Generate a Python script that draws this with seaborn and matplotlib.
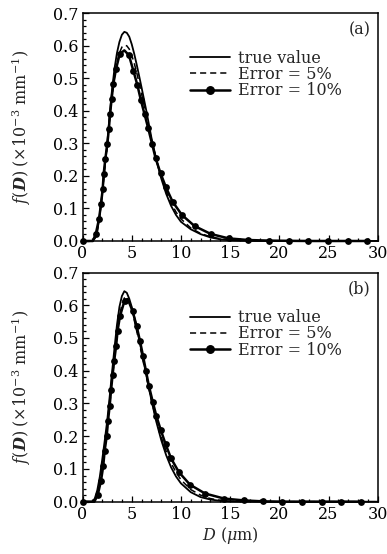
import numpy as np
import pandas as pd
import seaborn as sns
import matplotlib.pyplot as plt
from matplotlib.lines import Line2D
from matplotlib.ticker import MultipleLocator

# ---- panel (a): values ----
true_a_D = [0, 1.0, 1.25, 1.5, 1.75, 2.0, 2.25, 2.5, 2.75, 3.0, 3.25, 3.5, 3.75, 4.0, 4.25,
            4.5, 4.75, 5.0, 5.25, 5.5, 5.75, 6.0, 6.5, 7.0, 7.5, 8.0, 8.5, 9.0, 9.5, 10,
            11, 12, 13, 14, 15, 16, 17, 18, 30]
true_a_f = [0, 0, 0.008, 0.03, 0.08, 0.145, 0.225, 0.295, 0.385, 0.465, 0.53, 0.578, 0.612, 0.634, 0.643,
            0.640, 0.628, 0.605, 0.576, 0.543, 0.508, 0.472, 0.398, 0.318, 0.25, 0.192, 0.145, 0.108, 0.08, 0.059,
            0.036, 0.021, 0.011, 0.005, 0.0025, 0.001, 0.0004, 0, 0]

e5_a_D = true_a_D
e5_a_f = [0, 0, 0.008, 0.03, 0.08, 0.145, 0.222, 0.29, 0.375, 0.448, 0.505, 0.548, 0.578, 0.596, 0.602,
          0.600, 0.590, 0.571, 0.547, 0.518, 0.486, 0.452, 0.383, 0.312, 0.25, 0.197, 0.153, 0.117, 0.089, 0.068,
          0.040, 0.023, 0.013, 0.007, 0.0035, 0.0015, 0.0005, 0, 0]

# Error = 10%: points that carry a symbol
e10_a_D = [0, 1.35, 1.68, 1.88, 2.05, 2.15, 2.32, 2.52, 2.68, 2.8, 2.96, 3.13, 3.4, 3.78,
           4.72, 5.16, 5.57, 5.92, 6.3, 6.68, 7.07, 7.43, 7.93, 8.48, 9.15, 10.1, 11.38,
           13.04, 14.85, 16.85, 18.92, 20.96, 22.95, 24.98, 26.95, 28.91]
e10_a_f = [0, 0.022, 0.068, 0.114, 0.159, 0.206, 0.253, 0.298, 0.345, 0.391, 0.437, 0.483, 0.528, 0.575,
           0.571, 0.524, 0.48, 0.434, 0.39, 0.346, 0.298, 0.254, 0.208, 0.165, 0.121, 0.080, 0.046,
           0.0215, 0.008, 0.003, 0.0012, 0.0005, 0, 0, 0, 0]
# where the 10% line bends between symbols
e10_a_bend_D = [1.05, 4.25]
e10_a_bend_f = [0, 0.586]

# ---- panel (b) ----
true_b_D = true_a_D
true_b_f = [0, 0, 0.01, 0.035, 0.075, 0.128, 0.185, 0.245, 0.318, 0.395, 0.47, 0.54, 0.595, 0.628, 0.643,
            0.638, 0.620, 0.595, 0.565, 0.532, 0.497, 0.46, 0.384, 0.31, 0.244, 0.188, 0.142, 0.105, 0.077, 0.056,
            0.029, 0.014, 0.0065, 0.0028, 0.001, 0.0003, 0, 0, 0]

e5_b_D = true_a_D
e5_b_f = [0, 0, 0.007, 0.025, 0.06, 0.11, 0.165, 0.22, 0.29, 0.37, 0.44, 0.51, 0.565, 0.603, 0.622,
          0.622, 0.608, 0.585, 0.555, 0.522, 0.488, 0.452, 0.379, 0.31, 0.249, 0.197, 0.154, 0.118, 0.09, 0.067,
          0.037, 0.02, 0.0095, 0.0042, 0.0017, 0.0006, 0, 0, 0]

e10_b_D = [0, 1.54, 1.88, 2.11, 2.25, 2.46, 2.59, 2.76, 2.9, 3.05, 3.22, 3.42, 3.56, 3.81, 4.27,
           5.1, 5.5, 5.84, 6.15, 6.45, 6.75, 7.13, 7.5, 7.95, 8.45, 9.0, 9.8, 10.92, 12.45,
           14.4, 16.38, 18.34, 20.3, 22.3, 24.3, 26.3, 28.27]
e10_b_f = [0, 0.02, 0.064, 0.11, 0.156, 0.2, 0.247, 0.293, 0.34, 0.386, 0.431, 0.477, 0.522, 0.567, 0.614,
           0.581, 0.536, 0.491, 0.445, 0.399, 0.353, 0.306, 0.262, 0.219, 0.175, 0.132, 0.09, 0.052, 0.025,
           0.0095, 0.004, 0.001, 0, 0, 0, 0, 0]
e10_b_bend_D = [1.2, 4.6]
e10_b_bend_f = [0, 0.619]

sns.set_style("ticks")
plt.rcParams['font.family'] = ['DejaVu Serif']
plt.rcParams['mathtext.fontset'] = 'dejavuserif'
plt.rcParams['font.size'] = 11.5

fig = plt.figure(figsize=(3.87, 5.54), dpi=100)
ax_a = fig.add_axes([0.2132, 0.565, 0.763, 0.411])
ax_b = fig.add_axes([0.2132, 0.0944, 0.763, 0.4137])

dash = (0, (4, 2.6))


def draw_panel(ax, tD, tf, d5, f5, d10, f10, bd, bf, tag):
    line10 = pd.DataFrame({"D": list(d10) + list(bd), "f": list(f10) + list(bf)}).sort_values("D")
    sns.lineplot(x=tD, y=tf, ax=ax, color="black", lw=1.3, clip_on=False)
    sns.lineplot(x=d5, y=f5, ax=ax, color="black", lw=1.1, linestyle=dash)
    sns.lineplot(data=line10, x="D", y="f", ax=ax, color="black", lw=1.8, sort=False, clip_on=False)
    sns.scatterplot(x=d10, y=f10, ax=ax, color="black", s=24, edgecolor="black",
                    linewidth=0, clip_on=False, zorder=5)

    ax.set_xlim(0, 30)
    ax.set_ylim(0, 0.7)
    ax.xaxis.set_major_locator(MultipleLocator(5))
    ax.xaxis.set_minor_locator(MultipleLocator(1))
    ax.yaxis.set_major_locator(MultipleLocator(0.1))
    ax.yaxis.set_minor_locator(MultipleLocator(0.02))
    ax.yaxis.set_major_formatter(plt.FormatStrFormatter("%.1f"))
    ax.tick_params(which="both", direction="in", top=False, right=False, width=0.9,
                   labelsize=11.5, colors="black")
    ax.tick_params(which="major", length=4.2, pad=3)
    ax.tick_params(which="minor", length=2.2)
    for sp in ax.spines.values():
        sp.set_linewidth(1.1)
        sp.set_color("black")

    ax.set_ylabel(r"$f(\boldsymbol{D})\;(\times10^{-3}\ \mathrm{mm}^{-1})$", fontsize=11.5)
    ax.yaxis.set_label_coords(-0.168, 0.5)
    ax.set_xlabel("")

    handles = [Line2D([], [], color="black", lw=1.3),
               Line2D([], [], color="black", lw=1.1, linestyle=dash),
               Line2D([], [], color="black", lw=1.8, marker="o", markersize=5.4)]
    labels = ["true value", "Error = 5%", "Error = 10%"]
    ax.legend(handles, labels, loc="upper left", bbox_to_anchor=(0.365, 0.84), frameon=False,
              handlelength=2.5, handletextpad=0.5, labelspacing=-0.05, borderaxespad=0,
              borderpad=0, fontsize=11.5)
    ax.text(0.975, 0.965, tag, transform=ax.transAxes, ha="right", va="top", fontsize=11.5)


draw_panel(ax_a, true_a_D, true_a_f, e5_a_D, e5_a_f, e10_a_D, e10_a_f, e10_a_bend_D, e10_a_bend_f, "(a)")
draw_panel(ax_b, true_b_D, true_b_f, e5_b_D, e5_b_f, e10_b_D, e10_b_f, e10_b_bend_D, e10_b_bend_f, "(b)")

ax_b.set_xlabel(r"$D\ (\mu\mathrm{m})$", fontsize=11.5)
ax_b.xaxis.set_label_coords(0.5, -0.1)

fig.savefig("out.png", dpi=100)
